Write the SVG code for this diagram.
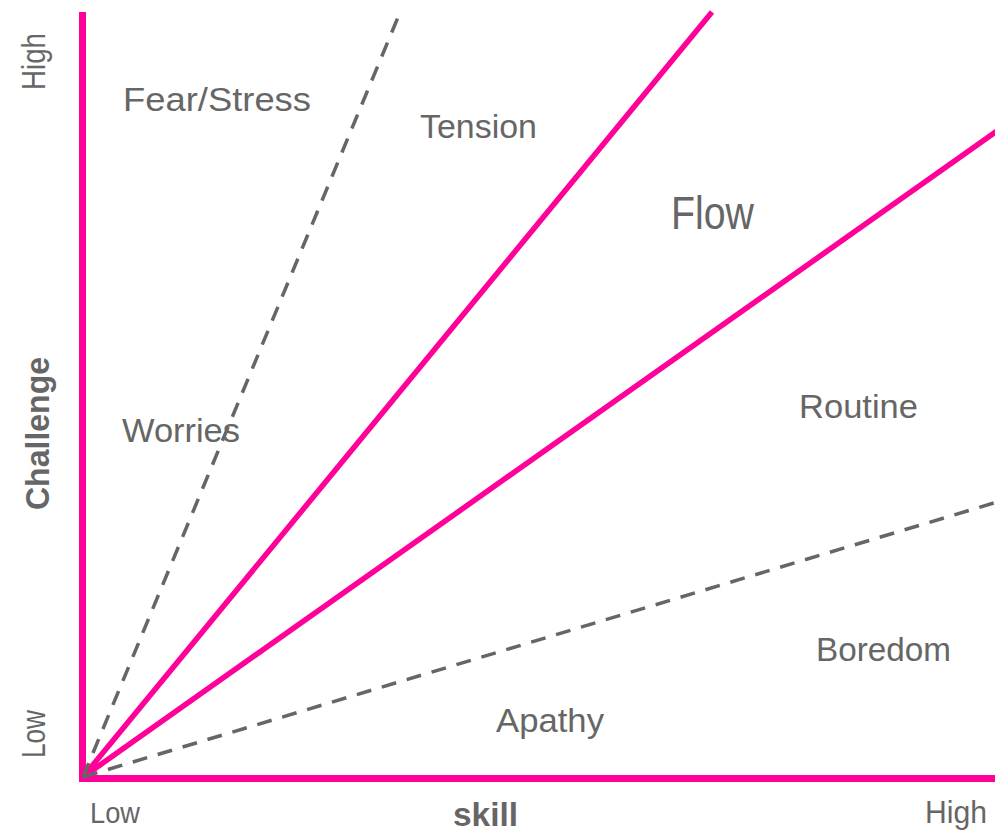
<svg xmlns="http://www.w3.org/2000/svg" width="995" height="835" viewBox="0 0 995 835">
<style>
.axis{stroke:#FF0099;stroke-width:7;fill:none}
.flow{stroke:#FF0099;stroke-width:5.5;fill:none}
.dash{stroke:#666;stroke-width:3.5;stroke-dasharray:15 11;fill:none}
.lbl{font-family:"Liberation Sans",Arial,sans-serif;font-size:33px;fill:#666}
.bold{font-weight:bold}
</style>
<rect width="995" height="835" fill="#fff"/>
<g id="connectors">
<line class="axis" x1="82.5" y1="12" x2="82.5" y2="782"/>
<line class="axis" x1="79" y1="778.5" x2="995" y2="778.5"/>
<line class="flow" x1="83" y1="777" x2="712" y2="12"/>
<line class="flow" x1="83" y1="777" x2="997" y2="131"/>
<line class="dash" x1="83" y1="777" x2="401" y2="10"/>
<line class="dash" x1="83" y1="777" x2="997" y2="502"/>
</g>
<g id="fear"><text class="lbl" x="123" y="111" textLength="188" lengthAdjust="spacingAndGlyphs">Fear/Stress</text></g>
<g id="tension"><text class="lbl" x="420" y="138" textLength="117" lengthAdjust="spacingAndGlyphs">Tension</text></g>
<g id="flow"><text class="lbl" x="671" y="229" font-size="46" style="font-size:46px" textLength="83" lengthAdjust="spacingAndGlyphs">Flow</text></g>
<g id="routine"><text class="lbl" x="799" y="418" textLength="119" lengthAdjust="spacingAndGlyphs">Routine</text></g>
<g id="worries"><text class="lbl" x="122" y="442" textLength="118" lengthAdjust="spacingAndGlyphs">Worries</text></g>
<g id="boredom"><text class="lbl" x="816" y="661" textLength="135" lengthAdjust="spacingAndGlyphs">Boredom</text></g>
<g id="apathy"><text class="lbl" x="496" y="732" textLength="108" lengthAdjust="spacingAndGlyphs">Apathy</text></g>
<g id="y-high"><text class="lbl" transform="translate(45,90) rotate(-90)" textLength="57" lengthAdjust="spacingAndGlyphs">High</text></g>
<g id="y-low"><text class="lbl" transform="translate(45,758) rotate(-90)" textLength="48" lengthAdjust="spacingAndGlyphs">Low</text></g>
<g id="y-title"><text class="lbl bold" transform="translate(49,510) rotate(-90)" textLength="153" lengthAdjust="spacingAndGlyphs">Challenge</text></g>
<g id="x-low"><text class="lbl" x="90" y="823" style="font-size:30px" textLength="50" lengthAdjust="spacingAndGlyphs">Low</text></g>
<g id="x-title"><text class="lbl bold" x="453" y="826" style="font-size:34px" textLength="65" lengthAdjust="spacingAndGlyphs">skill</text></g>
<g id="x-high"><text class="lbl" x="925" y="823" style="font-size:32px" textLength="62" lengthAdjust="spacingAndGlyphs">High</text></g>
</svg>
